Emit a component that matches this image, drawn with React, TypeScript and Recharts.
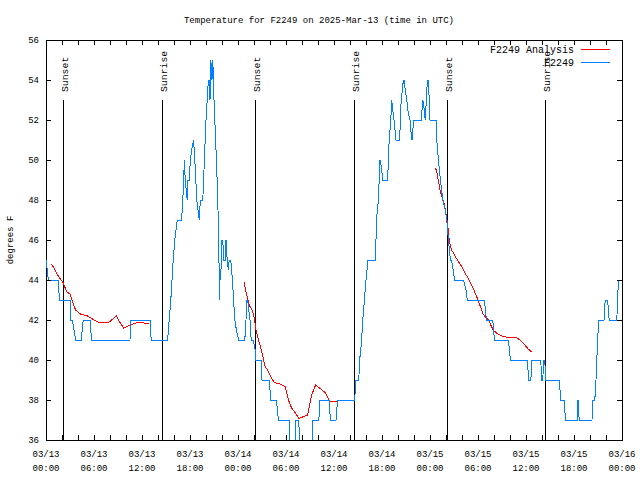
import { Legend, Line, LineChart, ReferenceArea, ReferenceLine, XAxis, YAxis } from "recharts";

const FONT = '"Liberation Mono", "DejaVu Sans Mono", monospace';
const PLOT = { left: 46, top: 40, right: 622, bottom: 440 };

// hours since 03/13 00:00 UTC, temperature in F
const blueDay1: [number, number][] = [
  [0, 45], [0.3, 44], [1.5, 44], [1.7, 43], [3.0, 43], [3.1, 42], [3.3, 42], [3.7, 41], [4.4, 41],
  [4.65, 42], [5.5, 42], [5.7, 41], [10.5, 41], [10.6, 42], [13.0, 42], [13.15, 41], [15.2, 41],
  [15.4, 42], [15.6, 43], [15.75, 44], [15.9, 45], [16.1, 46], [16.4, 47], [16.95, 47], [17.1, 48],
  [17.3, 50], [17.4, 49], [17.65, 48], [17.75, 49], [17.9, 49], [18.05, 50], [18.2, 50.5], [18.45, 51],
  [18.6, 50], [18.85, 48], [19.15, 47], [19.3, 48], [19.6, 48], [19.75, 49.5], [19.9, 51], [20.0, 52],
  [20.15, 53], [20.3, 54], [20.4, 54], [20.5, 53], [20.6, 55], [20.75, 54], [20.85, 55], [21.0, 53],
  [21.2, 51], [21.35, 49.5], [21.5, 47.5], [21.6, 46], [21.67, 43], [21.75, 44.5], [21.85, 44],
  [21.95, 46], [22.1, 46], [22.2, 45], [22.4, 45], [22.5, 46], [22.65, 45], [22.8, 44.5], [22.9, 45],
  [23.1, 45], [23.3, 44], [23.45, 43], [23.6, 42], [23.8, 41.5], [24.1, 41], [24.85, 41], [25.0, 42],
  [25.1, 43], [25.2, 43], [25.35, 42.5], [25.5, 42], [25.65, 41], [25.9, 41], [26.15, 40.5], [26.2, 40],
];
const blueDay2: [number, number][] = [
  [26.9, 40], [27.0, 39], [27.9, 39], [28.1, 38], [28.8, 38], [29.05, 37], [30.4, 37], [30.6, 35],
  [31.15, 35], [31.25, 37], [31.6, 37], [31.75, 35], [33.2, 35], [33.35, 37], [34.1, 37], [34.25, 38],
  [35.4, 38], [35.55, 37], [36.25, 37], [36.45, 38], [38.6, 38], [38.7, 39], [39.1, 39], [39.2, 40],
  [39.35, 40.5], [39.45, 41], [39.6, 42], [39.8, 43], [40.0, 44], [40.25, 45], [41.2, 45], [41.3, 47],
  [41.55, 48], [41.65, 49], [41.75, 50], [41.9, 49.7], [42.1, 49], [42.7, 49], [42.8, 50], [42.9, 51],
  [43.1, 52], [43.2, 53], [43.35, 52.5], [43.5, 52], [43.75, 51], [44.2, 51], [44.3, 52], [44.4, 53],
  [44.55, 53.5], [44.67, 54], [44.8, 54], [44.9, 53.5], [45.1, 53], [45.3, 52.3], [45.5, 52],
  [45.6, 51.5], [45.75, 51], [45.85, 51.5], [46.0, 52], [46.9, 52], [47.0, 52.5], [47.1, 53],
  [47.3, 52.5], [47.4, 52], [47.55, 53], [47.67, 54], [47.8, 54], [47.9, 53], [48.0, 52], [48.75, 52],
];
const blueDay3: [number, number][] = [
  [48.85, 51], [49.05, 50], [49.3, 49], [49.6, 48], [49.9, 47.5], [50.1, 47], [50.2, 46.5], [50.3, 46],
  [50.55, 45], [50.7, 45], [50.85, 44.6], [51.0, 44.2], [51.1, 44], [52.2, 44], [52.5, 43.5],
  [52.65, 43], [54.8, 43], [55.05, 42], [55.85, 42], [56.05, 41], [57.8, 41], [58.05, 40], [60.2, 40],
  [60.3, 39], [60.6, 39], [60.75, 40], [61.85, 40], [61.95, 39], [62.1, 39], [62.2, 40], [62.35, 40],
  [62.45, 39], [64.2, 39], [64.3, 38], [64.75, 38], [64.95, 37], [66.4, 37], [66.5, 38], [66.65, 37],
  [68.25, 37], [68.35, 38], [68.6, 38], [68.75, 39], [68.85, 40], [68.95, 41], [69.1, 42], [69.75, 42],
  [69.9, 43], [70.2, 43], [70.4, 42], [71.35, 42], [71.45, 43], [71.55, 44], [72, 44],
];

const redRun1: [number, number][] = [
  [0.67, 44.8], [1.0, 44.6], [1.6, 44.15], [2.1, 43.9], [2.6, 43.4], [3.0, 43.3], [3.4, 42.8],
  [3.7, 42.5], [4.3, 42.3], [5.2, 42.2], [5.8, 42.05], [6.5, 41.9], [7.9, 41.9], [8.8, 42.2],
  [9.2, 41.9], [9.7, 41.6], [10.5, 41.75], [11.6, 41.9], [12.25, 41.85], [12.9, 41.8],
];
const redRun2: [number, number][] = [
  [24.75, 43.92], [25.0, 43.4], [25.3, 42.9], [25.5, 42.67], [25.75, 42.5], [26.0, 42.17],
  [26.25, 41.5], [26.55, 41.0], [26.8, 40.67], [27.1, 40.17], [27.4, 39.67], [27.7, 39.5],
  [28.0, 39.25], [28.3, 39.0], [28.6, 38.87], [29.25, 38.8], [29.9, 38.67], [30.3, 38.0],
  [30.7, 37.6], [31.2, 37.33], [31.6, 37.08], [32.2, 37.17], [32.7, 37.25], [33.2, 38.25],
  [33.7, 38.75], [34.25, 38.58], [34.9, 38.37], [35.5, 37.92], [36.1, 37.92], [36.75, 37.97],
];
const redRun3: [number, number][] = [
  [48.7, 49.6], [48.9, 49.3], [49.1, 48.85], [49.3, 48.4], [49.6, 48.05], [49.8, 47.8], [49.95, 47.4],
  [50.1, 47.1], [50.25, 46.6], [50.4, 46.0], [50.55, 45.7], [50.7, 45.5], [51.0, 45.3], [51.3, 45.08],
  [51.7, 44.83], [51.96, 44.67], [52.4, 44.33], [52.8, 44.08], [53.1, 43.83], [53.4, 43.58],
  [53.75, 43.25], [54.0, 43.0], [54.3, 42.67], [54.6, 42.33], [54.9, 42.17], [55.3, 42.0],
  [55.6, 41.75], [55.9, 41.5], [56.25, 41.37], [56.7, 41.25], [57.2, 41.17], [57.8, 41.13],
  [58.8, 41.12], [59.25, 41.0], [59.7, 40.83], [60.2, 40.58], [60.5, 40.47], [60.8, 40.37],
];

const sunEvents = [
  { h: 2.15, label: "Sunset" },
  { h: 14.55, label: "Sunrise" },
  { h: 26.15, label: "Sunset" },
  { h: 38.55, label: "Sunrise" },
  { h: 50.15, label: "Sunset" },
  { h: 62.42, label: "Sunrise" },
];

const xTicks = Array.from({ length: 37 }, (_, i) => i * 2);
const yTicks = [36, 38, 40, 42, 44, 46, 48, 50, 52, 54, 56];
const xLabelDates = ["03/13", "03/13", "03/13", "03/13", "03/14", "03/14", "03/14", "03/14", "03/15", "03/15", "03/15", "03/15", "03/16"];
const xLabelTimes = ["00:00", "06:00", "12:00", "18:00", "00:00", "06:00", "12:00", "18:00", "00:00", "06:00", "12:00", "18:00", "00:00"];

const toRows = (pts: [number, number][]) => pts.map(([h, t]) => ({ h, t }));
const blueData = toRows([...blueDay1, ...blueDay2, ...blueDay3]);
const redData = [
  ...toRows(redRun1),
  { h: 18, t: null },
  ...toRows(redRun2),
  { h: 42, t: null },
  ...toRows(redRun3),
];

const textStyle = { fontFamily: FONT, fontSize: 9, fill: "#000" };

function XTick(props: any) {
  const { x, payload } = props;
  const i = payload.value / 6;
  const labeled = Number.isInteger(i);
  return (
    <g>
      <line x1={x} x2={x} y1={PLOT.bottom} y2={PLOT.bottom - 5} stroke="#000" />
      <line x1={x} x2={x} y1={PLOT.top} y2={PLOT.top + 5} stroke="#000" />
      {labeled && (
        <>
          <text x={x} y={457} textAnchor="middle" style={textStyle}>{xLabelDates[i]}</text>
          <text x={x} y={471} textAnchor="middle" style={textStyle}>{xLabelTimes[i]}</text>
        </>
      )}
    </g>
  );
}

function YTick(props: any) {
  const { y, payload } = props;
  return (
    <g>
      <line x1={PLOT.left} x2={PLOT.left + 5} y1={y} y2={y} stroke="#000" />
      <line x1={PLOT.right - 5} x2={PLOT.right} y1={y} y2={y} stroke="#000" />
      <text x={39} y={y + 3.3} textAnchor="end" style={textStyle}>{payload.value}</text>
    </g>
  );
}

function YTitle() {
  const cx = 11;
  const cy = (PLOT.top + PLOT.bottom) / 2;
  return (
    <text x={cx} y={cy} transform={`rotate(-90 ${cx} ${cy})`} textAnchor="middle" dominantBaseline="central" style={textStyle}>
      degrees F
    </text>
  );
}

function SunLabel(props: any) {
  const vb = props.viewBox;
  if (!vb) return null;
  const x = vb.x + 5;
  const y = vb.y - 8;
  return (
    <text x={x} y={y} transform={`rotate(-90 ${x} ${y})`} textAnchor="start" style={{ ...textStyle, fontSize: 9.8 }}>
      {props.text}
    </text>
  );
}

function LegendBox() {
  const legendText = { ...textStyle, fontSize: 10 };
  return (
    <svg width={160} height={30} style={{ display: "block", overflow: "visible" }}>
      <text x={114} y={13} textAnchor="end" style={legendText}>F2249 Analysis</text>
      <line x1={121} x2={150} y1={9} y2={9} stroke="#ff0000" shapeRendering="crispEdges" />
      <text x={114} y={26} textAnchor="end" style={legendText}>F2249</text>
      <line x1={121} x2={150} y1={22} y2={22} stroke="#0080ff" shapeRendering="crispEdges" />
    </svg>
  );
}

export default function App() {
  return (
    <div style={{ position: "absolute", left: 0, top: 0, width: 640, height: 480, background: "#fff" }}>
      <style>{`.recharts-surface path, .recharts-surface line, .recharts-surface rect { shape-rendering: crispEdges; }`}</style>
      <LineChart width={640} height={480} margin={{ top: 40, right: 18, bottom: 0, left: 6 }}>
        <XAxis
          dataKey="h"
          type="number"
          domain={[0, 72]}
          ticks={xTicks}
          interval={0}
          tick={<XTick />}
          tickLine={false}
          axisLine={false}
          height={40}
          allowDataOverflow
        />
        <YAxis
          type="number"
          domain={[36, 56]}
          ticks={yTicks}
          interval={0}
          tick={<YTick />}
          tickLine={false}
          axisLine={false}
          width={40}
          allowDataOverflow
          label={<YTitle />}
        />
        <ReferenceArea x1={0} x2={72} y1={36} y2={56} fill="none" fillOpacity={0} stroke="#000" strokeWidth={1} />
        {sunEvents.map((e, i) => (
          <ReferenceLine
            key={i}
            segment={[{ x: e.h, y: 36 }, { x: e.h, y: 53 }]}
            stroke="#000"
            strokeWidth={1}
            label={<SunLabel text={e.label} />}
          />
        ))}
        <Line
          data={redData}
          dataKey="t"
          name="F2249 Analysis"
          stroke="#ff0000"
          strokeWidth={1}
          dot={false}
          connectNulls={false}
          isAnimationActive={false}
        />
        <Line
          data={blueData}
          dataKey="t"
          name="F2249"
          stroke="#0080ff"
          strokeWidth={1}
          dot={false}
          isAnimationActive={false}
        />
        <Legend
          layout="horizontal"
          verticalAlign="middle"
          align="center"
          content={<LegendBox />}
          wrapperStyle={{ position: "absolute", left: 460, top: 40, width: 160, height: 30, margin: 0 }}
        />
      </LineChart>
      <svg width={640} height={32} style={{ position: "absolute", left: 0, top: 0, pointerEvents: "none" }}>
        <text x={319} y={22.5} textAnchor="middle" style={textStyle}>
          Temperature for F2249 on 2025-Mar-13 (time in UTC)
        </text>
      </svg>
    </div>
  );
}
